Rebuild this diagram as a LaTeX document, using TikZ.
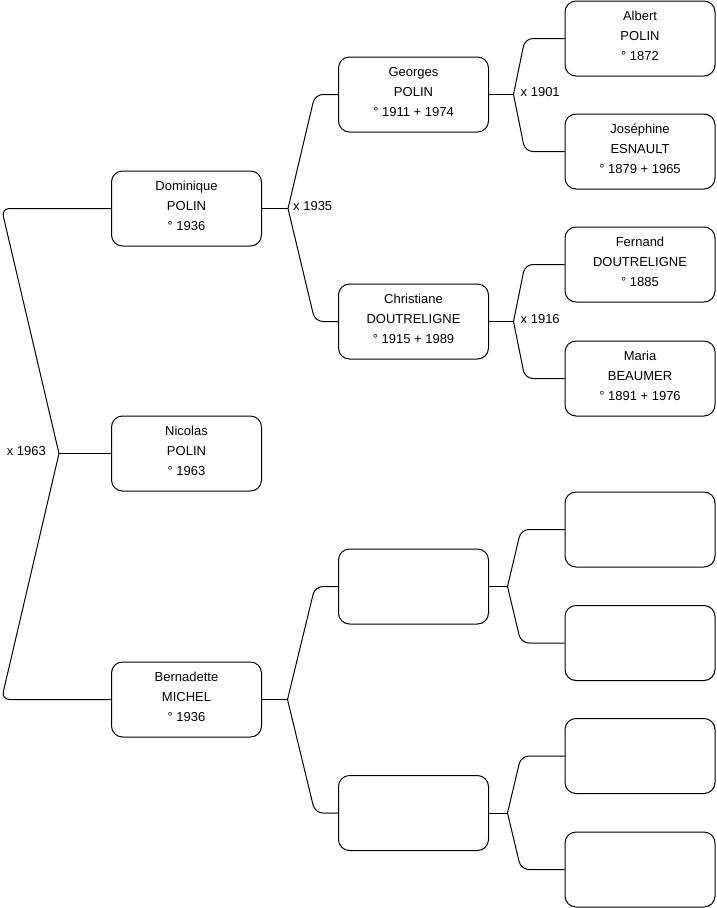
\documentclass[tikz,border=0pt]{standalone}
\usepackage{fontspec}
\setmainfont{Liberation Sans}
\begin{document}
\begin{tikzpicture}[x=1pt,y=-1pt,
  box/.style={draw=black, line width=1pt, rounded corners=11pt, minimum width=150pt, minimum height=75pt, inner sep=0pt},
  txt/.style={align=center, font=\fontsize{13}{20}\selectfont, inner sep=0pt, yshift=2.3pt},
  lbl/.style={font=\fontsize{13}{16}\selectfont, inner sep=0pt, yshift=2.3pt},
  conn/.style={line width=1pt, rounded corners=8pt}]
\useasboundingbox (0,0) rectangle (716,908);

% column 1
\node[box] (dom) at (186.5,208.5) {};
\node[txt] (domt) at (dom.center) {Dominique\\POLIN\\° 1936};
\node[box] (nic) at (186.5,453.5) {};
\node[txt] (nict) at (nic.center) {Nicolas\\POLIN\\° 1963};
\node[box] (ber) at (186.5,699.5) {};
\node[txt] (bert) at (ber.center) {Bernadette\\MICHEL\\° 1936};

% column 2
\node[box] (geo) at (413.5,94.5) {};
\node[txt] (geot) at (geo.center) {Georges\\POLIN\\° 1911 + 1974};
\node[box] (chr) at (413.5,321.5) {};
\node[txt] (chrt) at (chr.center) {Christiane\\DOUTRELIGNE\\° 1915 + 1989};
\node[box] (b2a) at (413.5,586.5) {};
\node[box] (b2b) at (413.5,813) {};

% column 3
\node[box] (alb) at (640,38.5) {};
\node[txt] (albt) at (alb.center) {Albert\\POLIN\\° 1872};
\node[box] (jos) at (640,151.5) {};
\node[txt] (jost) at (jos.center) {Joséphine\\ESNAULT\\° 1879 + 1965};
\node[box] (fer) at (640,264.5) {};
\node[txt] (fert) at (fer.center) {Fernand\\DOUTRELIGNE\\° 1885};
\node[box] (mar) at (640,378.5) {};
\node[txt] (mart) at (mar.center) {Maria\\BEAUMER\\° 1891 + 1976};
\node[box] (b3a) at (640,529.5) {};
\node[box] (b3b) at (640,643) {};
\node[box] (b3c) at (640,756) {};
\node[box] (b3d) at (640,869.5) {};

% junctions and corners
\coordinate (jnic) at (59,453.5);
\coordinate (cdom) at (1.5,208.5);
\coordinate (cber) at (1.5,699.5);

\coordinate (jdom) at (288,208.5);
\coordinate (cgeo) at (315,94.5);
\coordinate (cchr) at (315,321.5);

\coordinate (jber) at (287.5,699.5);
\coordinate (cb2a) at (315,586.5);
\coordinate (cb2b) at (315,813);

\coordinate (jgeo) at (513.5,94.5);
\coordinate (calb) at (525,38.5);
\coordinate (cjos) at (525,151.5);

\coordinate (jchr) at (513.5,321.5);
\coordinate (cfer) at (525,264.5);
\coordinate (cmar) at (525,378.5);

\coordinate (jb2a) at (507.5,586.5);
\coordinate (cb3a) at (521,529.5);
\coordinate (cb3b) at (521,643);

\coordinate (jb2b) at (507.5,813);
\coordinate (cb3c) at (521,756);
\coordinate (cb3d) at (521,869.5);

% connectors
\draw[conn] (nic.west) -- (jnic);
\draw[conn] (jnic) -- (cdom) -- (dom.west);
\draw[conn] (jnic) -- (cber) -- (ber.west);

\draw[conn] (dom.east) -- (jdom);
\draw[conn] (jdom) -- (cgeo) -- (geo.west);
\draw[conn] (jdom) -- (cchr) -- (chr.west);

\draw[conn] (ber.east) -- (jber);
\draw[conn] (jber) -- (cb2a) -- (b2a.west);
\draw[conn] (jber) -- (cb2b) -- (b2b.west);

\draw[conn] (geo.east) -- (jgeo);
\draw[conn] (jgeo) -- (calb) -- (alb.west);
\draw[conn] (jgeo) -- (cjos) -- (jos.west);

\draw[conn] (chr.east) -- (jchr);
\draw[conn] (jchr) -- (cfer) -- (fer.west);
\draw[conn] (jchr) -- (cmar) -- (mar.west);

\draw[conn] (b2a.east) -- (jb2a);
\draw[conn] (jb2a) -- (cb3a) -- (b3a.west);
\draw[conn] (jb2a) -- (cb3b) -- (b3b.west);

\draw[conn] (b2b.east) -- (jb2b);
\draw[conn] (jb2b) -- (cb3c) -- (b3c.west);
\draw[conn] (jb2b) -- (cb3d) -- (b3d.west);

% marriage labels
\node[lbl, anchor=east] (m1963) at ([xshift=-13pt]jnic) {x 1963};
\node[lbl, anchor=west] (m1935) at ([xshift=5pt]jdom) {x 1935};
\node[lbl, anchor=west] (m1901) at ([xshift=7pt]jgeo) {x 1901};
\node[lbl, anchor=west] (m1916) at ([xshift=7pt]jchr) {x 1916};
\end{tikzpicture}
\end{document}
